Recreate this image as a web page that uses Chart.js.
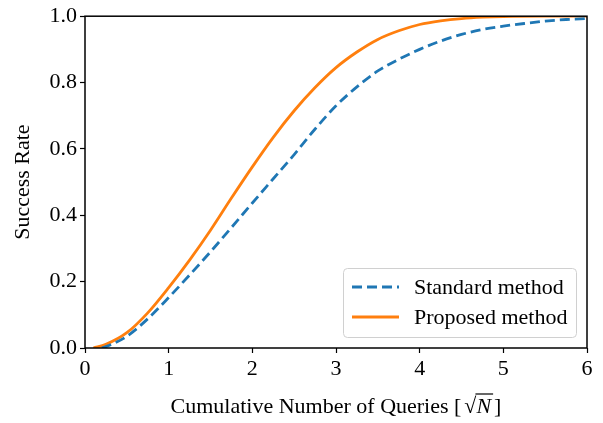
<!DOCTYPE html>
<html>
<head>
<meta charset="utf-8">
<script src="https://cdn.jsdelivr.net/npm/chart.js@4"></script>
<style>
  html, body { margin: 0; padding: 0; background: #fff; }
  #wrap { width: 603px; height: 423px; }
</style>
</head>
<body>
<div id="wrap"><canvas id="myChart" width="603" height="423"></canvas></div>
<script>
// values
const stdX = [0.2, 0.25, 0.5, 0.75, 1.0, 1.25, 1.5, 1.75, 2.0, 2.25, 2.5, 2.75, 3.0, 3.25, 3.5, 3.75, 4.0, 4.25, 4.5, 4.75, 5.0, 5.25, 5.5, 5.75, 6.0];
const stdY = [0.0, 0.004, 0.035, 0.088, 0.152, 0.22, 0.29, 0.363, 0.437, 0.51, 0.583, 0.66, 0.73, 0.787, 0.835, 0.87, 0.9, 0.925, 0.945, 0.96, 0.97, 0.978, 0.985, 0.99, 0.993];
const propX = [0.1, 0.25, 0.5, 0.75, 1.0, 1.25, 1.5, 1.75, 2.0, 2.25, 2.5, 2.75, 3.0, 3.25, 3.5, 3.75, 4.0, 4.25, 4.5, 4.75, 5.0, 5.5, 6.0];
const propY = [0.0, 0.011, 0.046, 0.106, 0.182, 0.265, 0.355, 0.452, 0.546, 0.635, 0.715, 0.785, 0.845, 0.892, 0.93, 0.956, 0.975, 0.986, 0.993, 0.997, 0.999, 1.0, 1.0];
const xTicks = [0, 1, 2, 3, 4, 5, 6];
const yTicks = [0, 0.2, 0.4, 0.6, 0.8, 1.0];
const seriesNames = ['Standard method', 'Proposed method'];

const serif = '"Liberation Serif", "DejaVu Serif", serif';

function pts(xs, ys) {
    return xs.map((x, i) => ({ x: x, y: ys[i] }));
}

// frame around the plot area (all four sides)
const framePlugin = {
    id: 'frame',
    afterDraw(chart) {
        const c = chart.ctx, a = chart.chartArea;
        c.save();
        c.strokeStyle = '#000';
        c.lineWidth = 1.5;
        c.strokeRect(a.left, a.top, a.right - a.left, a.bottom - a.top);
        c.restore();
    }
};

// legend box inside the plot, lower right
const legendPlugin = {
    id: 'boxLegend',
    afterDraw(chart) {
        const c = chart.ctx, a = chart.chartArea;
        const w = 233, h = 69;
        const x0 = a.right - 11 - w, y0 = a.bottom - 11 - h;
        c.save();
        c.fillStyle = 'rgba(255,255,255,0.85)';
        c.strokeStyle = '#d0d0d0';
        c.lineWidth = 1;
        c.beginPath();
        c.roundRect(x0 + 0.5, y0 + 0.5, w, h, 4);
        c.fill();
        c.stroke();
        c.font = '22px ' + serif;
        c.textBaseline = 'middle';
        chart.data.datasets.forEach((ds, i) => {
            const yy = y0 + 19 + i * 30;
            c.strokeStyle = ds.borderColor;
            c.lineWidth = ds.borderWidth;
            c.setLineDash(ds.borderDash || []);
            c.beginPath();
            c.moveTo(x0 + 9, yy);
            c.lineTo(x0 + 56, yy);
            c.stroke();
            c.setLineDash([]);
            c.fillStyle = '#000';
            c.fillText(ds.label, x0 + 71, yy + 1);
        });
        c.restore();
    }
};

// x axis title with a square-root sign over an italic N
const xTitlePlugin = {
    id: 'xTitle',
    afterDraw(chart) {
        const c = chart.ctx, a = chart.chartArea;
        const y = 413;
        c.save();
        c.fillStyle = '#000';
        c.textBaseline = 'alphabetic';
        const f1 = '22px ' + serif, f2 = 'italic 22px ' + serif;
        const p1 = 'Cumulative Number of Queries [';
        c.font = f1;
        const w1 = c.measureText(p1).width;
        const wr = c.measureText('\u221A').width;
        c.font = f2;
        const wn = c.measureText('N').width;
        c.font = f1;
        const wb = c.measureText(']').width;
        const total = w1 + 3 + wr + wn + 3 + wb;
        let x = (a.left + a.right) / 2 - total / 2;
        c.fillText(p1, x, y);
        x += w1 + 3;
        c.fillText('\u221A', x, y);
        x += wr;
        c.beginPath();
        c.lineWidth = 1.2;
        c.strokeStyle = '#000';
        c.moveTo(x - 1, y - 19);
        c.lineTo(x + wn + 2, y - 19);
        c.stroke();
        c.font = f2;
        c.fillText('N', x, y);
        x += wn + 3;
        c.font = f1;
        c.fillText(']', x, y);
        c.restore();
    }
};

const ctx = document.getElementById('myChart').getContext('2d');
const myChart = new Chart(ctx, {
    type: 'line',
    data: {
        datasets: [
            {
                label: seriesNames[0],
                data: pts(stdX, stdY),
                borderColor: '#1f77b4',
                borderWidth: 2.8,
                borderDash: [10, 5],
                pointRadius: 0,
                cubicInterpolationMode: 'monotone',
                fill: false
            },
            {
                label: seriesNames[1],
                data: pts(propX, propY),
                borderColor: '#ff7f0e',
                borderWidth: 2.8,
                pointRadius: 0,
                cubicInterpolationMode: 'monotone',
                fill: false
            }
        ]
    },
    options: {
        responsive: false,
        animation: false,
        layout: { padding: { left: 0, top: 16, right: 16, bottom: 0 } },
        plugins: {
            legend: { display: false },
            tooltip: { enabled: false }
        },
        scales: {
            x: {
                type: 'linear',
                min: 0,
                max: 6,
                afterFit(scale) { scale.height = 75; },
                afterBuildTicks(scale) { scale.ticks = xTicks.map(v => ({ value: v })); },
                grid: { drawOnChartArea: false, drawTicks: true, tickLength: 5, tickColor: '#000', tickWidth: 1.2 },
                border: { display: false },
                ticks: {
                    color: '#000',
                    font: { family: serif, size: 22 },
                    padding: 3,
                    maxRotation: 0,
                    callback: v => String(v)
                }
            },
            y: {
                min: 0,
                max: 1,
                afterFit(scale) { scale.width = 85; },
                afterBuildTicks(scale) { scale.ticks = yTicks.map(v => ({ value: v })); },
                grid: { drawOnChartArea: false, drawTicks: true, tickLength: 5, tickColor: '#000', tickWidth: 1.2 },
                border: { display: false },
                title: {
                    display: true,
                    text: 'Success Rate',
                    color: '#000',
                    font: { family: serif, size: 22 },
                    padding: { top: 10, bottom: 4 }
                },
                ticks: {
                    color: '#000',
                    font: { family: serif, size: 22 },
                    padding: 3,
                    callback: v => Number(v).toFixed(1)
                }
            }
        }
    },
    plugins: [framePlugin, legendPlugin, xTitlePlugin]
});
</script>
</body>
</html>
